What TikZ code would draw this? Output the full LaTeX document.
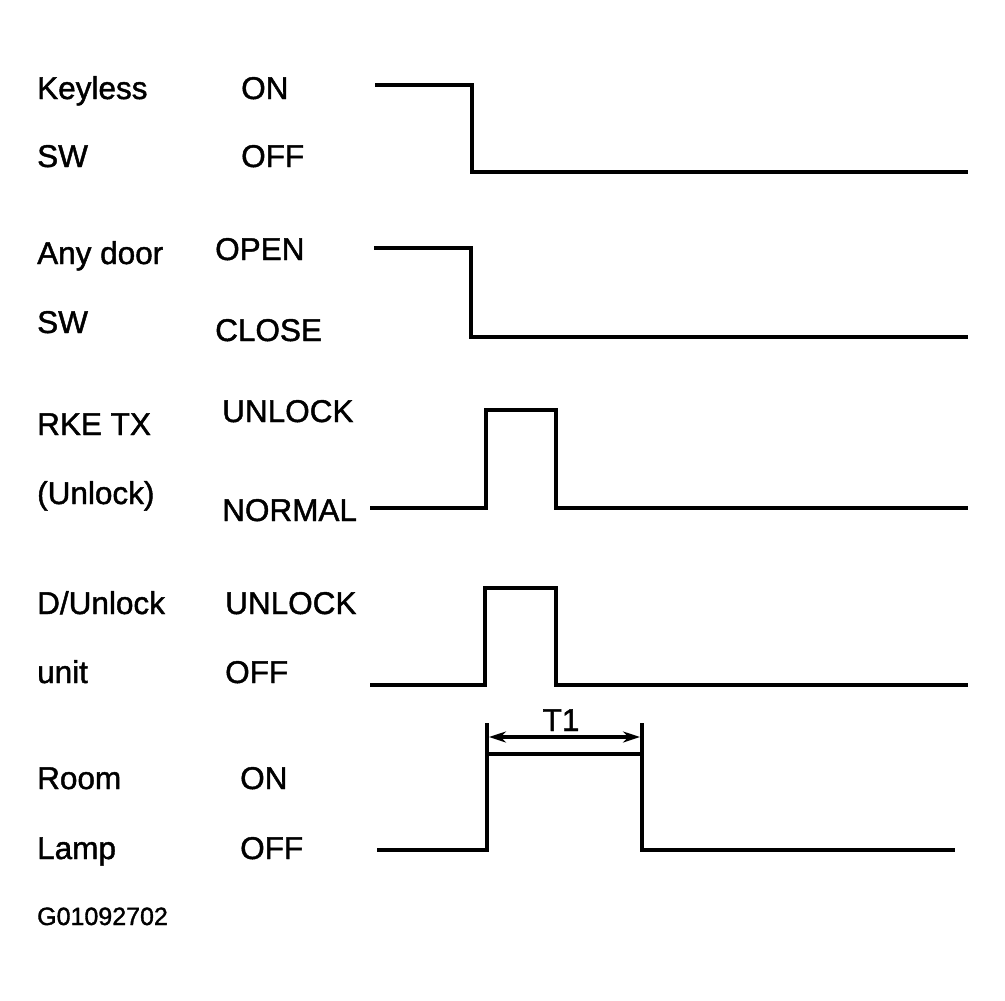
\documentclass[tikz,border=0pt]{standalone}
\usepackage{fontspec}
\setmainfont{Liberation Sans}[BoldFont=Liberation Sans,BoldFeatures={FakeBold=1.4}]
\usetikzlibrary{arrows.meta}
\begin{document}
\begin{tikzpicture}[x=1pt,y=-1pt,
  lbl/.style={anchor=base west,inner sep=0pt,font=\fontsize{31.5}{31.5}\selectfont\bfseries},
  code/.style={anchor=base west,inner sep=0pt,font=\fontsize{25}{25}\selectfont\bfseries},
  wave/.style={line width=3.2pt,line join=miter},
  dim/.style={line width=3.2pt,{Stealth[length=17pt,width=11pt]}-{Stealth[length=17pt,width=11pt]}}]
\useasboundingbox (0,0) rectangle (1005,1001);
% left labels
\node[lbl] (k1) at (37,99) {Keyless};
\node[lbl] (k2) at (37,167) {SW};
\node[lbl] (d1) at (37,264) {Any door};
\node[lbl] (d2) at (37,333) {SW};
\node[lbl] (r1) at (37,435) {RKE TX};
\node[lbl] (r2) at (37,504) {(Unlock)};
\node[lbl] (u1) at (37,614) {D/Unlock};
\node[lbl] (u2) at (37,683) {unit};
\node[lbl] (l1) at (37,789) {Room};
\node[lbl] (l2) at (37,859) {Lamp};
\node[code] (cd) at (37,925) {G01092702};
% state labels
\node[lbl] (s1) at (241,99) {ON};
\node[lbl] (s2) at (241,167) {OFF};
\node[lbl] (s3) at (215,260) {OPEN};
\node[lbl] (s4) at (215,341) {CLOSE};
\node[lbl] (s5) at (222,422) {UNLOCK};
\node[lbl] (s6) at (222,521) {NORMAL};
\node[lbl] (s7) at (225,614) {UNLOCK};
\node[lbl] (s8) at (225,683) {OFF};
\node[lbl] (s9) at (240,789) {ON};
\node[lbl] (s10) at (240,859) {OFF};
% waveforms
\draw[wave] (375,85) -- (472,85) -- (472,172) -- (968,172);
\draw[wave] (374,248) -- (471,248) -- (471,337) -- (968,337);
\draw[wave] (370,508) -- (486,508) -- (486,410) -- (556,410) -- (556,508) -- (968,508);
\draw[wave] (370,685) -- (485,685) -- (485,588) -- (556,588) -- (556,685) -- (968,685);
\draw[wave] (377,850) -- (487,850) -- (487,754) -- (642,754) -- (642,850) -- (955,850);
% T1 dimension
\coordinate (ta) at (489,737);
\coordinate (tb) at (640,737);
\draw[wave] (487,754) -- (487,723);
\draw[wave] (642,754) -- (642,723);
\draw[dim] (ta) -- (tb);
\node[lbl,anchor=base] (t1) at (561,731) {T1};
\end{tikzpicture}
\end{document}
